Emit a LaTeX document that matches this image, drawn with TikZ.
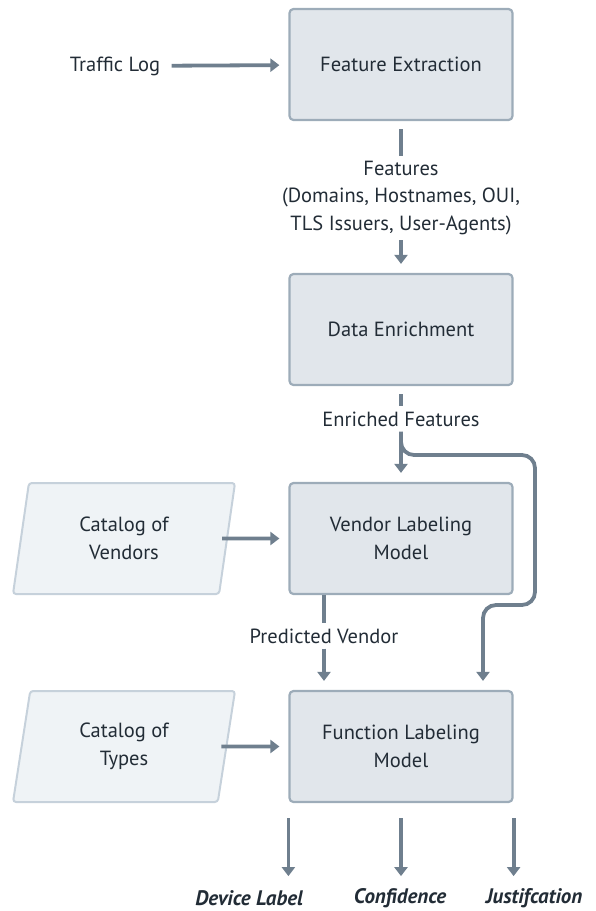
\documentclass[tikz,border=0pt]{standalone}
\usepackage{fontspec}
\setmainfont{PT Sans}
\usetikzlibrary{arrows.meta,shapes.geometric}
\definecolor{boxfill}{HTML}{E1E6EB}
\definecolor{boxline}{HTML}{9DACB9}
\definecolor{datafill}{HTML}{EFF3F6}
\definecolor{dataline}{HTML}{C6D1DB}
\definecolor{flowcol}{HTML}{6F7F8E}
\definecolor{textcol}{HTML}{222C36}

\begin{document}
\begin{tikzpicture}[x=1pt, y=-1pt, text=textcol,
  every node/.style={font=\fontsize{20.5}{27.5}\selectfont, align=center},
  procbox/.style={draw=boxline, fill=boxfill, line width=2.2pt, rounded corners=4pt,
    minimum width=223pt, minimum height=111pt},
  databox/.style={draw=dataline, fill=datafill, line width=2pt, rounded corners=3pt,
    trapezium, trapezium left angle=72, trapezium right angle=108,
    trapezium stretches body, minimum width=222pt, minimum height=111pt},
  lbl/.style={inner sep=5pt},
  outlbl/.style={font=\fontsize{21}{24}\selectfont\bfseries\itshape, inner sep=2pt},
  link/.style={draw=flowcol, line width=3.8pt},
  flow/.style={link, -{Triangle[width=13pt,length=9pt]}}]
	\useasboundingbox (0,0) rectangle (595,911);
	% main column
	\node[procbox] (fe)  at (401, 64.5) {Feature Extraction};
	\node[procbox] (de)  at (401,329.5) {Data Enrichment};
	\node[procbox] (vlm) at (401,538.5) {Vendor Labeling\\Model};
	\node[procbox] (flm) at (401,746.5) {Function Labeling\\Model};
	% inputs
	\node (tl) at (115,66) {Traffic Log};
	\node[databox] (cv) at (124,538.5) {Catalog of\\Vendors};
	\node[databox] (ct) at (124,746.5) {Catalog of\\Types};
	% edge labels
	\node[lbl] (feat) at (401,198) {Features\\(Domains, Hostnames, OUI,\\TLS Issuers, User-Agents)};
	\node[lbl] (ef) at (401,419) {Enriched Features};
	\node[lbl] (pv) at (324,636) {Predicted Vendor};
	% outputs
	\node[outlbl] (dl) at (249,898) {Device Label};
	\node[outlbl] (cf) at (400,898) {Confidence};
	\node[outlbl] (js) at (534,898) {Justifcation};
	\coordinate (pvtop) at (324,595);
	\coordinate (side) at (535,455);
	\coordinate (back) at (483,605);

	\draw[flow, shorten <=8pt, shorten >=9pt] (tl) -- (fe);
	\draw[link, shorten <=8pt] (fe) -- (feat);
	\draw[flow, shorten >=9pt] (feat) -- (de);
	\draw[link, shorten <=8pt] (de) -- (ef);
	\draw[flow, shorten >=9pt] (ef) -- (vlm);
	\draw[flow, rounded corners=13pt, shorten >=9pt] (ef.south) |- (side) |- (back) -- (flm.north -| back);
	\draw[flow, shorten <=-6pt, shorten >=9pt] (cv) -- (vlm);
	\draw[flow, shorten <=-6pt, shorten >=9pt] (ct) -- (flm);
	\draw[link] (pvtop) -- (pv);
	\draw[flow, shorten >=9pt] (pv) -- (flm.north -| pv);
	\draw[flow, shorten <=15pt, shorten >=10pt] (flm.south west) -- (flm.south west |- cf.north);
	\draw[flow, shorten <=15pt, shorten >=10pt] (flm.south) -- (flm.south |- cf.north);
	\draw[flow, shorten <=15pt, shorten >=10pt] (flm.south east) -- (flm.south east |- cf.north);
\end{tikzpicture}
\end{document}
